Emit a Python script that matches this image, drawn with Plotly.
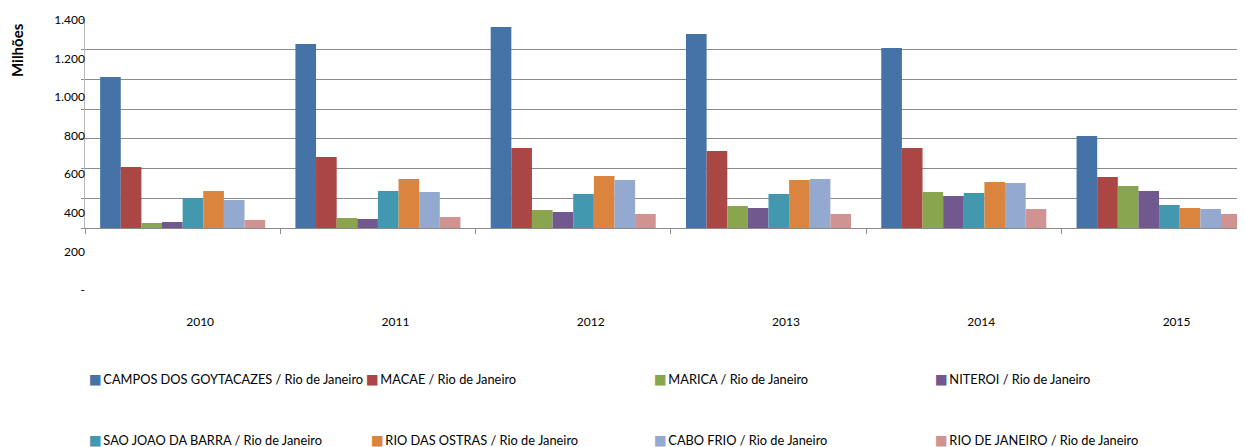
import plotly.graph_objects as go

years = ["2010", "2011", "2012", "2013", "2014", "2015"]
campos = [1015, 1237, 1351, 1304, 1210, 619]
macae = [411, 479, 539, 519, 539, 344]
marica = [36, 69, 123, 150, 244, 284]
niteroi = [42, 62, 109, 136, 217, 250]
sao_joao = [203, 250, 230, 230, 237, 156]
rio_ostras = [250, 331, 351, 324, 311, 136]
cabo_frio = [190, 244, 324, 331, 304, 130]
rio_janeiro = [56, 76, 96, 96, 130, 96]

series_names = [
    "CAMPOS DOS GOYTACAZES / Rio de Janeiro",
    "MACAE / Rio de Janeiro",
    "MARICA / Rio de Janeiro",
    "NITEROI / Rio de Janeiro",
    "SAO JOAO DA BARRA / Rio de Janeiro",
    "RIO DAS OSTRAS / Rio de Janeiro",
    "CABO FRIO / Rio de Janeiro",
    "RIO DE JANEIRO / Rio de Janeiro",
]
series_values = [campos, macae, marica, niteroi, sao_joao, rio_ostras, cabo_frio, rio_janeiro]
tick_vals = [0, 200, 400, 600, 800, 1000, 1200, 1400]
tick_text = ["-", "200", "400", "600", "800", "1.000", "1.200", "1.400"]

colors = ["#4572A7", "#AA4643", "#89A54E", "#71588F", "#4198AF", "#DB843D", "#93A9CF", "#D19392"]

OFF = 8                      # default page body margin
W, H = 1245 - OFF, 447 - OFF
ML = 85 - OFF
PW = W - ML
FONT = "Lato"

X_RANGE = [-0.5, 5.44]
CAT_PX = PW / (X_RANGE[1] - X_RANGE[0])
LABEL_SHIFT = 17.5 / CAT_PX   # year labels sit a little right of the groups

def px_x(p):                 # p: pixel in target picture
    return (p - OFF - ML) / PW

def px_y(p):
    return (H - (p - OFF)) / H

# legend swatch start positions (px) and row centres (px)
leg_x = [90, 367, 655, 936, 90, 372, 655, 936]
leg_row_y = [379, 379, 379, 379, 440, 440, 440, 440]

fig = go.Figure()
for i, (name, vals) in enumerate(zip(series_names, series_values)):
    fig.add_trace(go.Bar(
        x=years, y=vals, name=name, marker_color=colors[i],
        marker_line_width=0, legendgroup=name, showlegend=False,
    ))

# legend entries (swatch drawn as part of the legend text, Excel style)
for i, name in enumerate(series_names):
    lname = "legend" if i == 0 else f"legend{i + 1}"
    fig.add_trace(go.Scatter(
        x=[None], y=[None], mode="lines",
        line=dict(width=0, color="rgba(0,0,0,0)"),
        name=(f"<span style='color:{colors[i]};font-size:13.5px;"
              f"font-family:DejaVu Sans'>■</span>\u2009{name}"),
        legendgroup=name, legend=lname, hoverinfo="skip",
    ))

# helper traces for the offset label axes
fig.add_trace(go.Scatter(
    x=[years[0]], y=[0], yaxis="y2", mode="markers",
    marker=dict(opacity=0), showlegend=False, hoverinfo="skip",
))
fig.add_trace(go.Scatter(
    x=years, y=[0] * len(years), xaxis="x2", mode="markers",
    marker=dict(opacity=0), showlegend=False, hoverinfo="skip",
))

layout = dict(
    width=W, height=H,
    margin=dict(l=ML, r=0, t=0, b=0, autoexpand=False),
    paper_bgcolor="white",
    plot_bgcolor="rgba(0,0,0,0)",
    barmode="group",
    bargap=0.155,
    bargroupgap=0,
    font=dict(family=FONT, size=12, color="#000000"),
    xaxis=dict(
        domain=[0, 1],
        range=X_RANGE,
        anchor="y",
        showline=True, linecolor="#8c8c8c", linewidth=1,
        ticks="outside", ticklen=5, tickcolor="#8c8c8c",
        tickson="boundaries",
        showgrid=False,
        showticklabels=False,
        automargin=False,
    ),
    xaxis2=dict(
        overlaying="x", anchor="y", side="bottom",
        type="category", categoryarray=years, categoryorder="array",
        range=[X_RANGE[0] - LABEL_SHIFT, X_RANGE[1] - LABEL_SHIFT],
        showline=False, showgrid=False, zeroline=False, ticks="",
        ticklabelstandoff=85,
        automargin=False,
        tickfont=dict(family=FONT, size=12, color="#000000"),
    ),
    yaxis=dict(
        domain=[px_y(228.3), px_y(19.7)],
        range=[0, 1400],
        tickvals=tick_vals,
        showticklabels=False,
        showgrid=True, gridcolor="#8c8c8c", gridwidth=1,
        zeroline=False,
        showline=True, linecolor="#b8b8b8", linewidth=1,
        ticks="outside", ticklen=3, tickcolor="#8c8c8c",
        automargin=False,
    ),
    yaxis2=dict(
        domain=[px_y(290), px_y(20)],
        range=[0, 1400],
        anchor="free", position=0, side="left",
        tickvals=tick_vals, ticktext=tick_text,
        showgrid=False, zeroline=False, showline=False, ticks="",
        automargin=False,
        tickfont=dict(family=FONT, size=12, color="#000000"),
    ),
    annotations=[dict(
        text="<b>Milhões</b>", textangle=-90,
        xref="paper", yref="paper",
        x=px_x(17), y=px_y(50), xanchor="center", yanchor="middle",
        showarrow=False, font=dict(family=FONT, size=15, color="#000000"),
    )],
)

for i in range(8):
    lname = "legend" if i == 0 else f"legend{i + 1}"
    layout[lname] = dict(
        x=px_x(leg_x[i] - 1 - 40), y=px_y(leg_row_y[i]),
        xanchor="left", yanchor="middle",
        bgcolor="rgba(0,0,0,0)", borderwidth=0,
        font=dict(family=FONT, size=12.8, color="#000000"),
    )

fig.update_layout(**layout)
fig.write_html("out.html")
